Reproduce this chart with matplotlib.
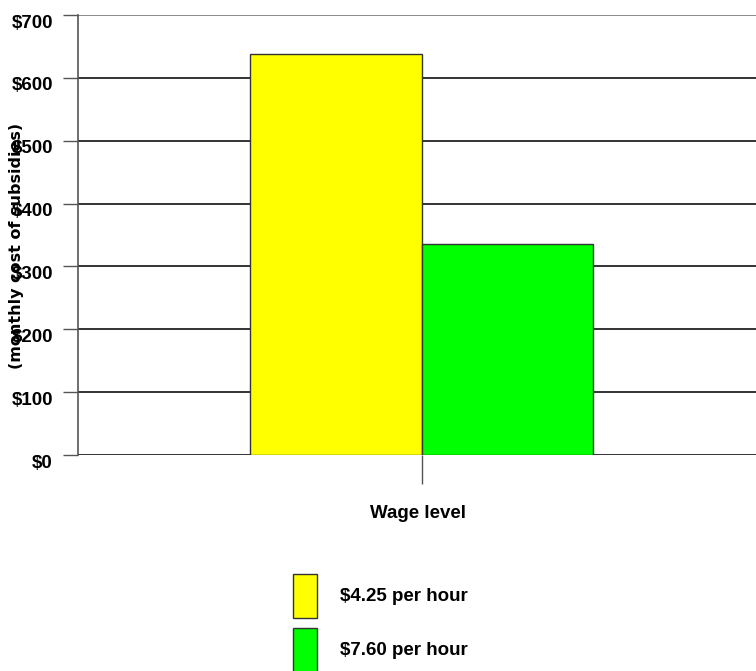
import matplotlib.pyplot as plt
from matplotlib.patches import Patch
from matplotlib.transforms import ScaledTranslation

# data
series = ["$4.25 per hour", "$7.60 per hour"]
values = [638, 336]
colors = ["#ffff00", "#00ff00"]
category = "Wage level"
y_ticks = [0, 100, 200, 300, 400, 500, 600, 700]
y_labels = ["$" + str(v) for v in y_ticks]

font = "Liberation Sans"
fs = 13.5

W, H = 756, 671
fig = plt.figure(figsize=(W / 100, H / 100), dpi=100)
ax = fig.add_axes([78 / W, (H - 455) / H, (765 - 78) / W, 440 / H])

# bars side by side around the single category
offsets = [-0.25, 0.25]
for off, val, col, lab in zip(offsets, values, colors, series):
    ax.bar(off, val, width=0.5, color=col, edgecolor="#333333", linewidth=1.0,
           label=lab, zorder=3)

ax.set_xlim(-1, 1)
ax.set_ylim(0, 700)
ax.set_yticks(y_ticks)
ax.set_yticklabels(y_labels, fontfamily=font, fontweight="bold", fontsize=fs)
ax.set_xticks([0])
ax.set_xticklabels([""])
ax.tick_params(axis="y", length=11, width=1, color="#555555", pad=7)
ax.tick_params(axis="x", length=21, width=1, color="#555555")

# labels sit a little below their grid lines
shift = ScaledTranslation(0, -6 / 100, fig.dpi_scale_trans)
for t in ax.get_yticklabels():
    t.set_transform(t.get_transform() + shift)

for v in y_ticks:
    ax.axhline(v, color="#777777" if v == 700 else "#111111", lw=1.2, zorder=1)

for s in ["top", "right", "bottom"]:
    ax.spines[s].set_visible(False)
ax.spines["left"].set_color("#555555")
ax.spines["left"].set_linewidth(1.2)

fig.text(418 / W, 1 - 514 / H, category, ha="center", va="center",
         fontfamily=font, fontweight="bold", fontsize=fs)
fig.text(17 / W, 1 - 246 / H, "(monthly cost of subsidies)", rotation=90,
         ha="center", va="center", fontfamily="DejaVu Sans", fontweight="bold",
         fontsize=11.5)

handles = [Patch(facecolor=c, edgecolor="#333333", linewidth=1.0) for c in colors]
fpx = fs * 100 / 72
leg = fig.legend(handles, series, loc="upper left",
                 bbox_to_anchor=(293 / W, 1 - 574 / H), frameon=False,
                 handlelength=24 / fpx, handleheight=(44 / fpx - 0.245) / 0.65,
                 handletextpad=23 / fpx, labelspacing=10 / fpx,
                 borderpad=0, borderaxespad=0,
                 prop={"family": font, "weight": "bold", "size": fs})

fig.savefig("out.png", dpi=100)
